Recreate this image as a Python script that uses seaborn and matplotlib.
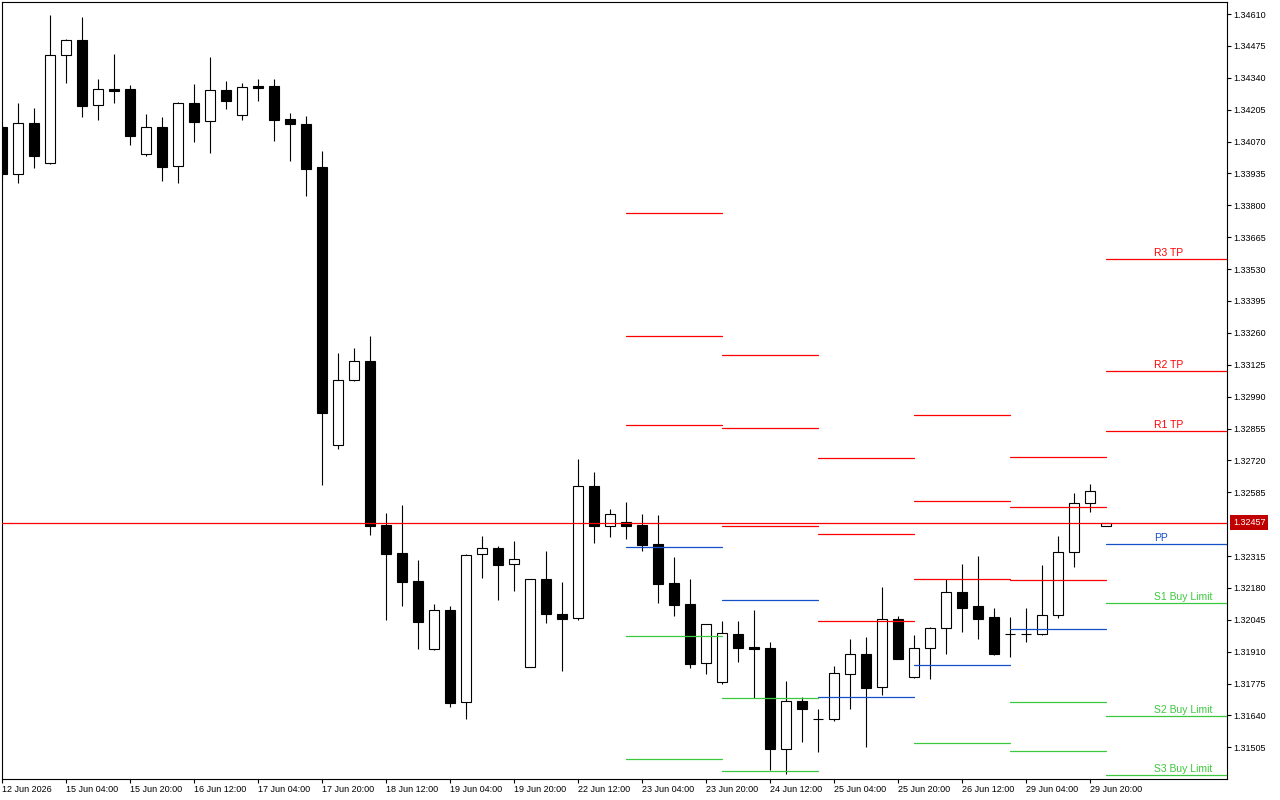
import numpy as np
import pandas as pd
import matplotlib
matplotlib.use("Agg")
import matplotlib.pyplot as plt
import seaborn as sns

# H4 candles, 12 Jun 2026 12:00 .. 30 Jun 00:00
opens = [1.34132, 1.33931, 1.34147, 1.33978, 1.34435, 1.34499, 1.34223, 1.34292, 1.34292, 1.34016,
         1.34132, 1.33965, 1.34232, 1.34156, 1.34288, 1.34181, 1.34305, 1.34305, 1.34165, 1.34144,
         1.33962, 1.32784, 1.33059, 1.33141, 1.32446, 1.32328, 1.32209, 1.31920, 1.32085, 1.31696,
         1.32322, 1.32348, 1.32280, 1.31844, 1.32217, 1.32070, 1.32051, 1.32610, 1.32441, 1.32459,
         1.32446, 1.32366, 1.32201, 1.32112, 1.31861, 1.31783, 1.31985, 1.31930, 1.31926, 1.31497,
         1.31701, 1.31626, 1.31626, 1.31814, 1.31900, 1.31759, 1.32048, 1.31802, 1.31924, 1.32009,
         1.32162, 1.32102, 1.32056, 1.31984, 1.31984, 1.31984, 1.32064, 1.32331, 1.32538, 1.32441]
highs = [1.34144, 1.34233, 1.34212, 1.34606, 1.34504, 1.34597, 1.34335, 1.34441, 1.34309, 1.34187,
         1.34174, 1.34237, 1.34314, 1.34428, 1.34326, 1.34318, 1.34335, 1.34335, 1.34191, 1.34178,
         1.34030, 1.33175, 1.33196, 1.33247, 1.32499, 1.32531, 1.32298, 1.32112, 1.32103, 1.32324,
         1.32400, 1.32356, 1.32379, 1.32217, 1.32336, 1.32205, 1.32726, 1.32671, 1.32513, 1.32544,
         1.32493, 1.32490, 1.32311, 1.32218, 1.32026, 1.32040, 1.32040, 1.32087, 1.31951, 1.31786,
         1.31718, 1.31667, 1.31849, 1.31964, 1.31972, 1.32184, 1.32061, 1.31981, 1.32013, 1.32217,
         1.32281, 1.32315, 1.32094, 1.32057, 1.32095, 1.32277, 1.32400, 1.32582, 1.32620, 1.32457]
lows = [1.33907, 1.33896, 1.33959, 1.33975, 1.34319, 1.34175, 1.34162, 1.34234, 1.34057, 1.34010,
        1.33904, 1.33896, 1.34069, 1.34023, 1.34209, 1.34162, 1.34243, 1.34074, 1.33989, 1.33841,
        1.32616, 1.32767, 1.33056, 1.32405, 1.32046, 1.32105, 1.31923, 1.31918, 1.31677, 1.31624,
        1.32223, 1.32130, 1.32168, 1.31844, 1.32033, 1.31830, 1.32044, 1.32372, 1.32397, 1.32388,
        1.32338, 1.32117, 1.32062, 1.31842, 1.31817, 1.31775, 1.31868, 1.31714, 1.31410, 1.31393,
        1.31529, 1.31487, 1.31618, 1.31667, 1.31508, 1.31728, 1.31880, 1.31800, 1.31796, 1.31902,
        1.31995, 1.31965, 1.31897, 1.31889, 1.31952, 1.31982, 1.32054, 1.32270, 1.32503, 1.32441]
closes = [1.33933, 1.34147, 1.34010, 1.34435, 1.34499, 1.34222, 1.34291, 1.34285, 1.34095, 1.34130,
          1.33964, 1.34232, 1.34154, 1.34287, 1.34243, 1.34300, 1.34298, 1.34162, 1.34146, 1.33955,
          1.32919, 1.33060, 1.33141, 1.32444, 1.32325, 1.32206, 1.32037, 1.32085, 1.31694, 1.32318,
          1.32348, 1.32278, 1.32301, 1.32217, 1.32068, 1.32050, 1.32610, 1.32441, 1.32492, 1.32444,
          1.32363, 1.32198, 1.32109, 1.31859, 1.32026, 1.31988, 1.31927, 1.31923, 1.31499, 1.31701,
          1.31669, 1.31626, 1.31820, 1.31900, 1.31758, 1.32048, 1.31880, 1.31924, 1.32009, 1.32162,
          1.32096, 1.32050, 1.31902, 1.31984, 1.31984, 1.32064, 1.32331, 1.32538, 1.32589, 1.32457]

time_labels = ["12 Jun 2026", "15 Jun 04:00", "15 Jun 20:00", "16 Jun 12:00", "17 Jun 04:00",
               "17 Jun 20:00", "18 Jun 12:00", "19 Jun 04:00", "19 Jun 20:00", "22 Jun 12:00",
               "23 Jun 04:00", "23 Jun 20:00", "24 Jun 12:00", "25 Jun 04:00", "25 Jun 20:00",
               "26 Jun 12:00", "29 Jun 04:00", "29 Jun 20:00"]
price_ticks = [1.34610, 1.34475, 1.34340, 1.34205, 1.34070, 1.33935, 1.33800, 1.33665, 1.33530,
               1.33395, 1.33260, 1.33125, 1.32990, 1.32855, 1.32720, 1.32585, 1.32315, 1.32180,
               1.32045, 1.31910, 1.31775, 1.31640, 1.31505]
last_price = 1.32457

# daily pivot levels (one value per day, day starts at the given bar)
day_start = [39, 45, 51, 57, 63, 69]
piv_r3 = [1.33766, 1.33166, 1.32730, 1.32911, 1.32733, 1.33571]
piv_r2 = [1.33247, 1.32856, 1.32408, 1.32547, 1.32521, 1.33098]
piv_r1 = [1.32869, 1.32441, 1.32039, 1.32217, 1.32212, 1.32843]
piv_pp = [1.32352, 1.32129, 1.31717, 1.31852, 1.32005, 1.32365]
piv_s1 = [1.31977, 1.31713, np.nan, 1.31522, 1.31696, 1.32115]
piv_s2 = [1.31456, 1.31404, np.nan, np.nan, 1.31488, 1.31638]
piv_s3 = [np.nan, np.nan, np.nan, np.nan, np.nan, 1.31387]
level_names = ["R3", "R2", "R1", "PP", "S1", "S2", "S3"]
level_texts = ["R3 TP", "R2 TP", "R1 TP", "PP", "S1 Buy Limit", "S2 Buy Limit", "S3 Buy Limit"]

RED, BLUE, GREEN = "#FF0000", "#1450C8", "#3CC83C"
level_colors = {"R3": RED, "R2": RED, "R1": RED, "PP": BLUE, "S1": GREEN, "S2": GREEN, "S3": GREEN}

sns.set_theme(style="white")
plt.rcParams["font.family"] = ["Liberation Sans", "DejaVu Sans"]

fig = plt.figure(figsize=(12.8, 8), dpi=100)
ax = fig.add_axes([2 / 1280, 21 / 800, 1225 / 1280, 777 / 800])
x_max = 76.56

# candles
x = np.arange(len(opens))
o = np.array(opens)
c = np.array(closes)
ax.vlines(x, lows, highs, color="black", lw=0.8, zorder=2)
ax.bar(x, np.abs(c - o), bottom=np.minimum(o, c), width=0.62,
       color=np.where(c > o, "white", "black"), edgecolor="black", linewidth=0.8, zorder=3)

# pivot segments
ends = day_start[1:] + [x_max]
rows = []
for name, vals in zip(level_names, [piv_r3, piv_r2, piv_r1, piv_pp, piv_s1, piv_s2, piv_s3]):
    for d, v in enumerate(vals):
        rows.append({"x": day_start[d], "price": v, "level": name, "day": d})
        rows.append({"x": ends[d], "price": v, "level": name, "day": d})
piv = pd.DataFrame(rows).dropna()
sns.lineplot(data=piv, x="x", y="price", hue="level", units="day", estimator=None,
             palette=level_colors, legend=False, lw=0.9, ax=ax, zorder=4)

# labels on the current day's levels
for name, txt, vals in zip(level_names, level_texts,
                           [piv_r3, piv_r2, piv_r1, piv_pp, piv_s1, piv_s2, piv_s3]):
    ax.annotate(txt, xy=(72.0, vals[-1]), xytext=(0, 2.2), textcoords="offset points",
                ha="left", va="baseline", fontsize=7.5, color=level_colors[name], zorder=5)

# bid line + price box
ax.axhline(last_price, color=RED, lw=0.9, zorder=4)
ax.annotate(f"{last_price:.5f}", xy=(1, last_price), xycoords=("axes fraction", "data"),
            xytext=(4.3, 0), textcoords="offset points", ha="left", va="center",
            fontsize=6.5, color="white", annotation_clip=False,
            bbox=dict(boxstyle="square,pad=0.3", fc="#C00000", ec="none"))

ax.set_xlim(0, x_max)
ax.set_ylim(1.31371, 1.34661)
ax.set_xticks(x[::4])
ax.set_xticklabels(time_labels)
plt.setp(ax.get_xticklabels(), ha="left")
ax.yaxis.tick_right()
ax.set_yticks(price_ticks)
ax.set_yticklabels([f"{v:.5f}" for v in price_ticks])
ax.tick_params(axis="both", direction="out", length=3, width=0.8, labelsize=6.5,
               colors="black", pad=1.5)
ax.tick_params(axis="x", bottom=True)
ax.tick_params(axis="y", right=True, left=False, labelright=True, labelleft=False)
ax.set_xlabel("")
ax.set_ylabel("")
for sp in ax.spines.values():
    sp.set_color("black")
    sp.set_linewidth(0.8)

fig.savefig("out.png", dpi=100, facecolor="white")
